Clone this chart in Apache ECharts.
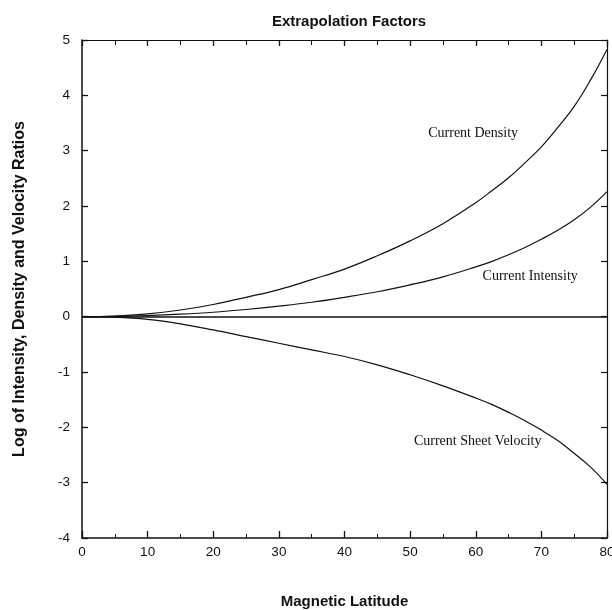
<!DOCTYPE html>
<html lang="en">
<head>
    <meta http-equiv="Content-Type" content="text/html; charset=utf-8"/>
    <title>Extrapolation Factors</title>
    <script type="text/javascript" src="https://cdn.jsdelivr.net/npm/echarts@6.0.0/dist/echarts.min.js"></script>
    <style>
        html, body { margin: 0; padding: 0; background: #fff; }
        #main { width: 612px; height: 610px; }
    </style>
</head>
<body>
<div id="main"></div>
<script type="text/javascript">
    // magnetic latitude (deg)
    var latitude = [0, 5, 10, 15, 20, 25, 30, 35, 40, 45, 50, 55, 60, 62.5, 65, 67.5, 70, 72.5, 75, 77.5, 80];
    // log ratios
    var currentDensity = [0, 0.01, 0.05, 0.12, 0.22, 0.35, 0.49, 0.67, 0.86, 1.10, 1.37, 1.68, 2.06, 2.28, 2.51, 2.78, 3.07, 3.42, 3.80, 4.28, 4.83];
    var currentIntensity = [0, 0.005, 0.02, 0.045, 0.08, 0.13, 0.19, 0.26, 0.35, 0.45, 0.575, 0.72, 0.90, 1.00, 1.12, 1.25, 1.40, 1.56, 1.75, 1.98, 2.26];
    var sheetVelocity = [0, -0.01, -0.05, -0.13, -0.24, -0.36, -0.48, -0.60, -0.72, -0.87, -1.05, -1.25, -1.47, -1.59, -1.73, -1.88, -2.05, -2.24, -2.47, -2.72, -3.03];

    var xTicks = [0, 10, 20, 30, 40, 50, 60, 70, 80];
    var yTicks = [-4, -3, -2, -1, 0, 1, 2, 3, 4, 5];

    // curve captions: [text, latitude, value]
    var captions = [
        ['Current Density', 59.6, 3.32],
        ['Current Intensity', 68.3, 0.73],
        ['Current Sheet Velocity', 60.3, -2.26]
    ];

    function pairs(ys) {
        var out = [];
        for (var i = 0; i < latitude.length; i++) {
            out.push([latitude[i], ys[i]]);
        }
        return out;
    }

    var lineStyle = {color: '#111', width: 1.2};
    var sansFont = '"Liberation Sans", Arial, Helvetica, sans-serif';
    var serifFont = '"Liberation Serif", "DejaVu Serif", serif';

    function curve(name, ys) {
        return {
            name: name,
            type: 'line',
            smooth: 0.4,
            showSymbol: false,
            lineStyle: lineStyle,
            data: pairs(ys)
        };
    }

    var myChart = echarts.init(document.getElementById('main'));
    var option = {
        animation: false,
        backgroundColor: '#fff',
        title: {
            text: 'Extrapolation Factors',
            left: 344,
            top: 9,
            textAlign: 'center',
            textStyle: {fontFamily: sansFont, fontSize: 15, fontWeight: 'bold', color: '#111'}
        },
        grid: {left: 82, right: 5, top: 40, bottom: 72, outerBoundsMode: 'none', containLabel: false},
        xAxis: [
            {
                type: 'value',
                min: xTicks[0],
                max: xTicks[xTicks.length - 1],
                interval: 10,
                name: 'Magnetic Latitude',
                nameLocation: 'middle',
                nameGap: 56,
                nameTextStyle: {fontFamily: sansFont, fontSize: 15, fontWeight: 'bold', color: '#111'},
                axisLine: {onZero: false, lineStyle: {color: '#111', width: 1.5}},
                axisTick: {inside: true, length: 7, lineStyle: {color: '#111', width: 1.3}},
                minorTick: {show: true, splitNumber: 2, length: 4, lineStyle: {color: '#111', width: 1}},
                axisLabel: {margin: 7, fontFamily: sansFont, fontSize: 13.5, color: '#111'},
                splitLine: {show: false}
            },
            {
                type: 'value',
                position: 'top',
                min: xTicks[0],
                max: xTicks[xTicks.length - 1],
                interval: 10,
                axisLine: {onZero: false, lineStyle: {color: '#111', width: 1.2}},
                axisTick: {inside: true, length: 6, lineStyle: {color: '#111', width: 1.3}},
                minorTick: {show: true, splitNumber: 2, length: 5, lineStyle: {color: '#111', width: 1}},
                axisLabel: {show: false},
                splitLine: {show: false}
            }
        ],
        yAxis: [
            {
                type: 'value',
                min: yTicks[0],
                max: yTicks[yTicks.length - 1],
                interval: 1,
                name: 'Log of Intensity, Density and Velocity Ratios',
                nameLocation: 'middle',
                nameGap: 54,
                nameTextStyle: {fontFamily: sansFont, fontSize: 16, fontWeight: 'bold', color: '#111'},
                axisLine: {onZero: false, lineStyle: {color: '#111', width: 1.5}},
                axisTick: {inside: true, length: 6, lineStyle: {color: '#111', width: 1.3}},
                axisLabel: {margin: 12, fontFamily: sansFont, fontSize: 13.5, color: '#111'},
                splitLine: {show: false}
            },
            {
                type: 'value',
                position: 'right',
                min: yTicks[0],
                max: yTicks[yTicks.length - 1],
                interval: 1,
                axisLine: {onZero: false, lineStyle: {color: '#111', width: 1.2}},
                axisTick: {inside: true, length: 6, lineStyle: {color: '#111', width: 1.2}},
                axisLabel: {show: false},
                splitLine: {show: false}
            }
        ],
        series: [
            curve('Current Density', currentDensity),
            curve('Current Intensity', currentIntensity),
            curve('Current Sheet Velocity', sheetVelocity)
        ]
    };
    // zero reference line
    option.series[0].markLine = {
        silent: true,
        symbol: 'none',
        label: {show: false},
        lineStyle: {color: '#111', width: 1.6, type: 'solid'},
        data: [{yAxis: 0}]
    };
    myChart.setOption(option);

    // place the curve captions through the axes
    var texts = [];
    for (var i = 0; i < captions.length; i++) {
        var p = myChart.convertToPixel({xAxisIndex: 0, yAxisIndex: 0}, [captions[i][1], captions[i][2]]);
        texts.push({
            type: 'text',
            x: p[0],
            y: p[1],
            silent: true,
            style: {
                text: captions[i][0],
                align: 'center',
                verticalAlign: 'middle',
                font: '14px ' + serifFont,
                fill: '#111'
            }
        });
    }
    myChart.setOption({graphic: texts});
</script>
</body>
</html>
